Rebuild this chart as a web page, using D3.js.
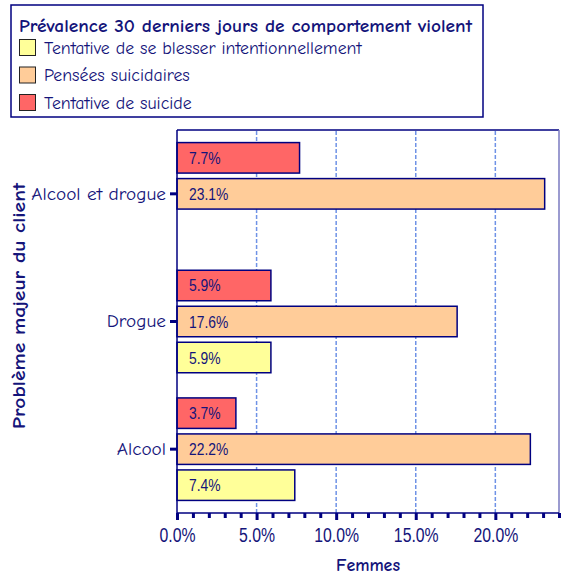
<!DOCTYPE html>
<html>
<head>
<meta charset="utf-8">
<script src="https://cdn.jsdelivr.net/npm/d3@7"></script>
<style>
  body { margin: 0; background: #fff; }
  svg { display: block; }
</style>
</head>
<body>
<div id="container"></div>
<script>
// data, bottom category first
const categories = ["Alcool", "Drogue", "Alcool et drogue"];
const seriesNames = ["Tentative de se blesser intentionnellement", "Pensées suicidaires", "Tentative de suicide"];
const blesserValues = [7.4, 5.9, null];
const penseesValues = [22.2, 17.6, 23.1];
const suicideValues = [3.7, 5.9, 7.7];
const seriesColors = ["#ffff99", "#ffcc99", "#ff6666"];
const xGridValues = [5, 10, 15, 20];
const xLabelValues = [0, 5, 10, 15, 20];
const xMax = 24;
const chartTitle = "Prévalence 30 derniers jours de comportement violent";
const xTitle = "Femmes";
const yTitle = "Problème majeur du client";

const w = 562, h = 575;
const navy = "#000080";
const textCol = "#14147a";
const comic = "'Comic Sans MS', 'Comic Neue', 'Open Sans', sans-serif";
const arial = "Arial, 'Liberation Sans', sans-serif";

const plotL = 177, plotR = 559, plotT = 130, plotB = 513;

const seriesValues = [blesserValues, penseesValues, suicideValues];
const rows = [];
seriesValues.forEach((vals, s) => {
  vals.forEach((v, c) => {
    if (v != null) rows.push({ s: s, cat: categories[c], v: v });
  });
});

// scale text horizontally (the reference font is wider / stretched)
function squeeze(sel, k) {
  sel.each(function() {
    const tw = this.getComputedTextLength();
    this.setAttribute("textLength", tw * k);
    this.setAttribute("lengthAdjust", "spacingAndGlyphs");
  });
}
function fit(sel, width) {
  sel.attr("textLength", width).attr("lengthAdjust", "spacingAndGlyphs");
}

const svg = d3.select("#container")
  .append("svg")
  .attr("width", w)
  .attr("height", h);

const x = d3.scaleLinear().domain([0, xMax]).range([plotL, plotR]);
const y = d3.scaleBand().domain(categories.slice().reverse()).range([plotT, plotB]);
// inside a group: suicide on top, then pensees, then blesser
const inner = d3.scaleBand().domain([2, 1, 0]).range([-51.25, 51.25]).paddingInner(0.153);

// legend box
const legend = svg.append("g");
legend.append("rect")
  .attr("x", 11).attr("y", 5).attr("width", 472).attr("height", 112)
  .attr("fill", "#fff").attr("stroke", navy).attr("stroke-width", 1.5);
legend.append("text")
  .attr("x", 19).attr("y", 32)
  .attr("font-family", comic).attr("font-size", 18).attr("font-weight", "bold")
  .attr("fill", textCol)
  .text(chartTitle)
  .call(fit, 453);

const legendRow = d3.scaleLinear().domain([0, 2]).range([39, 94]);
seriesNames.forEach((name, i) => {
  const g = legend.append("g").attr("transform", "translate(19," + legendRow(i) + ")");
  g.append("rect")
    .attr("x", 0.5).attr("y", 0.5).attr("width", 16).attr("height", 16)
    .attr("fill", seriesColors[i]).attr("stroke", "#222").attr("stroke-width", 1);
  g.append("text")
    .attr("x", 25).attr("y", 14.5)
    .attr("font-family", comic).attr("font-size", 17)
    .attr("fill", textCol)
    .text(name)
    .call(squeeze, 1.05);
});

// plot frame
svg.append("line")
  .attr("x1", plotL).attr("x2", plotR).attr("y1", plotT).attr("y2", plotT)
  .attr("stroke", navy).attr("stroke-width", 1.5);
svg.append("line")
  .attr("x1", plotR).attr("x2", plotR).attr("y1", plotT).attr("y2", plotB)
  .attr("stroke", "#7a7ac0").attr("stroke-width", 1.5);

// grid
svg.append("g").selectAll("line")
  .data(xGridValues)
  .enter().append("line")
  .attr("x1", d => x(d)).attr("x2", d => x(d))
  .attr("y1", plotT + 1).attr("y2", plotB)
  .attr("stroke", "#6f92e6").attr("stroke-width", 1.5)
  .attr("stroke-dasharray", "4,2");

// bars
const bars = svg.append("g");
bars.selectAll("rect")
  .data(rows)
  .enter().append("rect")
  .attr("x", x(0))
  .attr("y", d => y(d.cat) + y.bandwidth() / 2 + inner(d.s))
  .attr("width", d => x(d.v) - x(0))
  .attr("height", inner.bandwidth())
  .attr("fill", d => seriesColors[d.s])
  .attr("stroke", navy).attr("stroke-width", 1.5);

bars.selectAll("text")
  .data(rows)
  .enter().append("text")
  .attr("x", x(0) + 12)
  .attr("y", d => y(d.cat) + y.bandwidth() / 2 + inner(d.s) + inner.bandwidth() / 2 + 6)
  .attr("font-family", arial).attr("font-size", 16.5)
  .attr("fill", textCol)
  .text(d => d.v.toFixed(1) + "%")
  .call(squeeze, 0.84);

// x axis
const xAxis = d3.axisBottom(x)
  .tickValues(d3.range(0, xMax + 1))
  .tickSize(5)
  .tickFormat(d => xLabelValues.includes(d) ? d.toFixed(1) + "%" : "");
const gx = svg.append("g")
  .attr("transform", "translate(0," + plotB + ")")
  .call(xAxis);
gx.select(".domain").remove();
gx.selectAll(".tick line")
  .attr("stroke", navy).attr("stroke-width", 3)
  .attr("y2", d => d % 5 === 0 ? 7 : 5);
gx.selectAll(".tick text")
  .attr("y", 15)
  .attr("font-family", arial).attr("font-size", 20)
  .attr("fill", textCol)
  .call(squeeze, 0.79);
gx.append("line")
  .attr("x1", plotL).attr("x2", plotR)
  .attr("stroke", navy).attr("stroke-width", 1.5);

// y axis
const yAxis = d3.axisLeft(y).tickSize(7).tickPadding(4);
const gy = svg.append("g")
  .attr("transform", "translate(" + plotL + ",0)")
  .call(yAxis);
gy.select(".domain")
  .attr("stroke", navy).attr("stroke-width", 1.5)
  .attr("d", "M0," + plotT + "V" + plotB);
gy.selectAll(".tick line").attr("stroke", navy).attr("stroke-width", 3);
gy.selectAll(".tick text")
  .attr("font-family", comic).attr("font-size", 18)
  .attr("fill", textCol)
  .call(squeeze, 1.07);

// titles
svg.append("text")
  .attr("x", (plotL + plotR) / 2).attr("y", 571)
  .attr("text-anchor", "middle")
  .attr("font-family", comic).attr("font-size", 17).attr("font-weight", "bold")
  .attr("fill", textCol)
  .text(xTitle)
  .call(fit, 64);

svg.append("text")
  .attr("transform", "translate(25,306) rotate(-90)")
  .attr("text-anchor", "middle")
  .attr("font-family", comic).attr("font-size", 18).attr("font-weight", "bold")
  .attr("fill", textCol)
  .text(yTitle)
  .call(fit, 246);
</script>
</body>
</html>
